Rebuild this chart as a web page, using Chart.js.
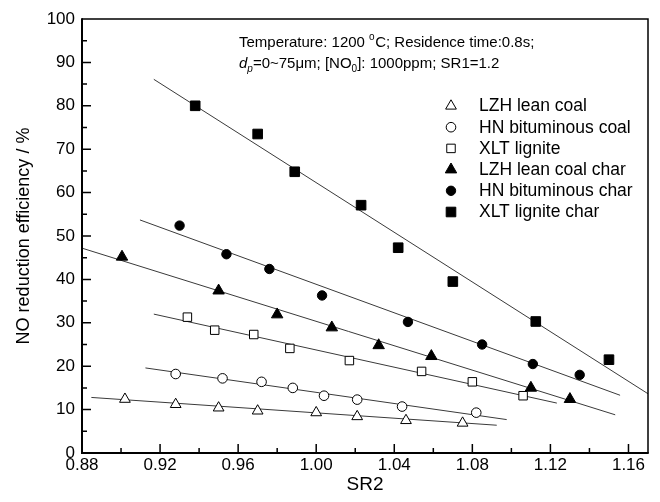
<!DOCTYPE html>
<html>
<head>
<meta charset="utf-8">
<script src="https://cdn.jsdelivr.net/npm/chart.js@4.4.1/dist/chart.umd.min.js"></script>
<style>
  html, body { margin: 0; padding: 0; background: #ffffff; }
  #wrap { width: 660px; height: 502px; position: relative; }
</style>
</head>
<body>
<div id="wrap"><canvas id="c" width="660" height="502"></canvas></div>
<script>
// ---------- data ----------
const seriesNames = ["LZH lean coal", "HN bituminous coal", "XLT lignite",
                     "LZH lean coal char", "HN bituminous char", "XLT lignite char"];

const sr2LZHcoal  = [0.902, 0.928, 0.950, 0.970, 1.000, 1.021, 1.046, 1.075];
const effLZHcoal  = [12.4, 11.2, 10.4, 9.7, 9.3, 8.4, 7.5, 6.9];

const sr2HNcoal   = [0.928, 0.952, 0.972, 0.988, 1.004, 1.021, 1.044, 1.082];
const effHNcoal   = [18.2, 17.2, 16.4, 15.0, 13.2, 12.3, 10.7, 9.3];

const sr2XLT      = [0.934, 0.948, 0.968, 0.9865, 1.017, 1.054, 1.080, 1.106];
const effXLT      = [31.3, 28.3, 27.3, 24.1, 21.3, 18.8, 16.4, 13.2];

const sr2LZHchar  = [0.9005, 0.950, 0.980, 1.008, 1.032, 1.059, 1.110, 1.130];
const effLZHchar  = [45.2, 37.4, 31.9, 28.9, 24.8, 22.3, 15.0, 12.4];

const sr2HNchar   = [0.930, 0.954, 0.976, 1.003, 1.047, 1.085, 1.111, 1.135];
const effHNchar   = [52.4, 45.8, 42.4, 36.3, 30.2, 25.0, 20.5, 18.0];

const sr2XLTchar  = [0.938, 0.970, 0.989, 1.023, 1.042, 1.070, 1.1125, 1.150];
const effXLTchar  = [80.0, 73.5, 64.8, 57.1, 47.3, 39.5, 30.3, 21.5];

// linear fit lines: [x start, x end] and [y start, y end]
const fitLZHcoalX = [0.8848, 1.0925]; const fitLZHcoalY = [12.8, 6.4];
const fitHNcoalX  = [0.9125, 1.0976]; const fitHNcoalY  = [19.6, 7.7];
const fitXLTX     = [0.9168, 1.1233]; const fitXLTY     = [32.0, 11.5];
const fitLZHcharX = [0.8800, 1.1532]; const fitLZHcharY = [47.2, 8.8];
const fitHNcharX  = [0.9097, 1.1557]; const fitHNcharY  = [53.7, 13.3];
const fitXLTcharX = [0.9168, 1.1700]; const fitXLTcharY = [86.1, 13.65];

const xTickValues = [0.88, 0.92, 0.96, 1.00, 1.04, 1.08, 1.12, 1.16];
const yTickValues = [0, 10, 20, 30, 40, 50, 60, 70, 80, 90, 100];

// ---------- build ----------
const FONT = "'Liberation Sans', Arial, sans-serif";
function pts(xs, ys) { return xs.map((x, i) => ({ x: x, y: ys[i] })); }

const markerDefs = [
  { style: 'triangle', r: 6.2, fill: '#ffffff' },
  { style: 'circle',   r: 4.8, fill: '#ffffff' },
  { style: 'rect',     r: 6.0, fill: '#ffffff' },
  { style: 'triangle', r: 6.6, fill: '#000000' },
  { style: 'circle',   r: 4.7, fill: '#000000' },
  { style: 'rect',     r: 6.8, fill: '#000000' }
];
const seriesX = [sr2LZHcoal, sr2HNcoal, sr2XLT, sr2LZHchar, sr2HNchar, sr2XLTchar];
const seriesY = [effLZHcoal, effHNcoal, effXLT, effLZHchar, effHNchar, effXLTchar];
const fitsX = [fitLZHcoalX, fitHNcoalX, fitXLTX, fitLZHcharX, fitHNcharX, fitXLTcharX];
const fitsY = [fitLZHcoalY, fitHNcoalY, fitXLTY, fitLZHcharY, fitHNcharY, fitXLTcharY];

const datasets = [];
seriesNames.forEach((name, i) => {
  const m = markerDefs[i];
  datasets.push({
    label: name,
    data: pts(seriesX[i], seriesY[i]),
    showLine: false,
    pointStyle: m.style,
    pointRadius: m.r,
    pointHoverRadius: m.r,
    pointBackgroundColor: m.fill,
    pointBorderColor: '#000000',
    pointBorderWidth: 1,
    order: 0
  });
});
seriesNames.forEach((name, i) => {
  datasets.push({
    label: name + ' fit',
    data: pts(fitsX[i], fitsY[i]),
    showLine: true,
    borderColor: '#3a3a3a',
    borderWidth: 1,
    pointRadius: 0,
    pointHoverRadius: 0,
    fill: false,
    order: 1
  });
});

const framePlugin = {
  id: 'frameTicks',
  afterDraw(chart) {
    const ctx = chart.ctx, a = chart.chartArea;
    const xs = chart.scales.x, ys = chart.scales.y;
    ctx.save();
    ctx.strokeStyle = '#000000';
    // top & right
    ctx.lineWidth = 1.5;
    ctx.beginPath();
    ctx.moveTo(a.left, a.top); ctx.lineTo(a.right, a.top); ctx.lineTo(a.right, a.bottom);
    ctx.stroke();
    // left & bottom
    ctx.lineWidth = 2;
    ctx.beginPath();
    ctx.moveTo(a.left, a.top - 0.75); ctx.lineTo(a.left, a.bottom); ctx.lineTo(a.right + 0.75, a.bottom);
    ctx.stroke();
    // ticks inward
    ctx.lineWidth = 1.5;
    ctx.beginPath();
    for (let i = 0; i < yTickValues.length; i++) {
      const v = yTickValues[i];
      const py = ys.getPixelForValue(v);
      if (i > 0 && i < yTickValues.length - 1) { ctx.moveTo(a.left, py); ctx.lineTo(a.left + 9, py); }
      if (i < yTickValues.length - 1) {
        const mv = (v + yTickValues[i + 1]) / 2;
        const my = ys.getPixelForValue(mv);
        ctx.moveTo(a.left, my); ctx.lineTo(a.left + 5, my);
      }
    }
    for (let i = 0; i < xTickValues.length; i++) {
      const v = xTickValues[i];
      const px = xs.getPixelForValue(v);
      if (i > 0) { ctx.moveTo(px, a.bottom); ctx.lineTo(px, a.bottom - 9); }
      if (i < xTickValues.length - 1) {
        const mx = xs.getPixelForValue((v + xTickValues[i + 1]) / 2);
        ctx.moveTo(mx, a.bottom); ctx.lineTo(mx, a.bottom - 5);
      }
    }
    ctx.stroke();

    // annotation text
    ctx.fillStyle = '#000000';
    ctx.textBaseline = 'alphabetic';
    ctx.textAlign = 'left';
    const fs = 15;
    function seg(text, x, y, size, italic, dy) {
      ctx.font = (italic ? 'italic ' : '') + size + 'px ' + FONT;
      ctx.fillText(text, x, y + (dy || 0));
      return x + ctx.measureText(text).width;
    }
    let x = 239, y1 = 47, y2 = 68;
    x = seg('Temperature: 1200 ', x, y1, fs);
    x = seg('o', x, y1, 10, false, -7);
    x = seg('C; Residence time:0.8s;', x + 0.5, y1, fs);
    x = 239;
    x = seg('d', x, y2, fs, true);
    x = seg('p', x, y2, 10, true, 4);
    x = seg('=0~75\u03BCm; [NO', x, y2, fs);
    x = seg('0', x, y2, 10, false, 4);
    x = seg(']: 1000ppm; SR1=1.2', x, y2, fs);

    // legend
    const lx = 451, tx = 479, ly0 = 106, ldy = 21.2;
    ctx.textBaseline = 'middle';
    seriesNames.forEach((name, i) => {
      const m = markerDefs[i];
      const yy = ly0 + i * ldy;
      ctx.fillStyle = m.fill;
      ctx.strokeStyle = '#000000';
      ctx.lineWidth = 1;
      Chart.helpers.drawPoint(ctx, { pointStyle: m.style, radius: m.r, borderWidth: 1, rotation: 0 }, lx, yy);
      ctx.fillStyle = '#000000';
      ctx.font = '17.5px ' + FONT;
      ctx.fillText(name, tx, yy + 0.5);
    });
    ctx.restore();
  }
};

new Chart(document.getElementById('c'), {
  type: 'scatter',
  data: { datasets: datasets },
  options: {
    responsive: false,
    animation: false,
    devicePixelRatio: 1,
    layout: { padding: { left: 0, right: 12, top: 19, bottom: 0 } },
    plugins: { legend: { display: false }, tooltip: { enabled: false } },
    scales: {
      x: {
        type: 'linear', min: 0.88, max: 1.17,
        grid: { display: false, drawTicks: false },
        border: { display: false },
        afterBuildTicks: s => { s.ticks = xTickValues.map(v => ({ value: v })); },
        afterFit: s => { s.height = 49; },
        ticks: { color: '#000', font: { family: FONT, size: 17 }, padding: 2,
                 maxRotation: 0, autoSkip: false,
                 callback: v => Number(v).toFixed(2) },
        title: { display: true, text: 'SR2', color: '#000',
                 font: { family: FONT, size: 19 }, padding: { top: 0, bottom: 6 } }
      },
      y: {
        type: 'linear', min: 0, max: 100,
        grid: { display: false, drawTicks: false },
        border: { display: false },
        afterBuildTicks: s => { s.ticks = yTickValues.map(v => ({ value: v })); },
        afterFit: s => { s.width = 82; },
        ticks: { color: '#000', font: { family: FONT, size: 17 }, padding: 7,
                 autoSkip: false, callback: v => String(v) },
        title: { display: true, text: 'NO reduction efficiency / %', color: '#000',
                 font: { family: FONT, size: 18 }, padding: { top: 13, bottom: 0 } }
      }
    }
  },
  plugins: [framePlugin]
});
</script>
</body>
</html>
